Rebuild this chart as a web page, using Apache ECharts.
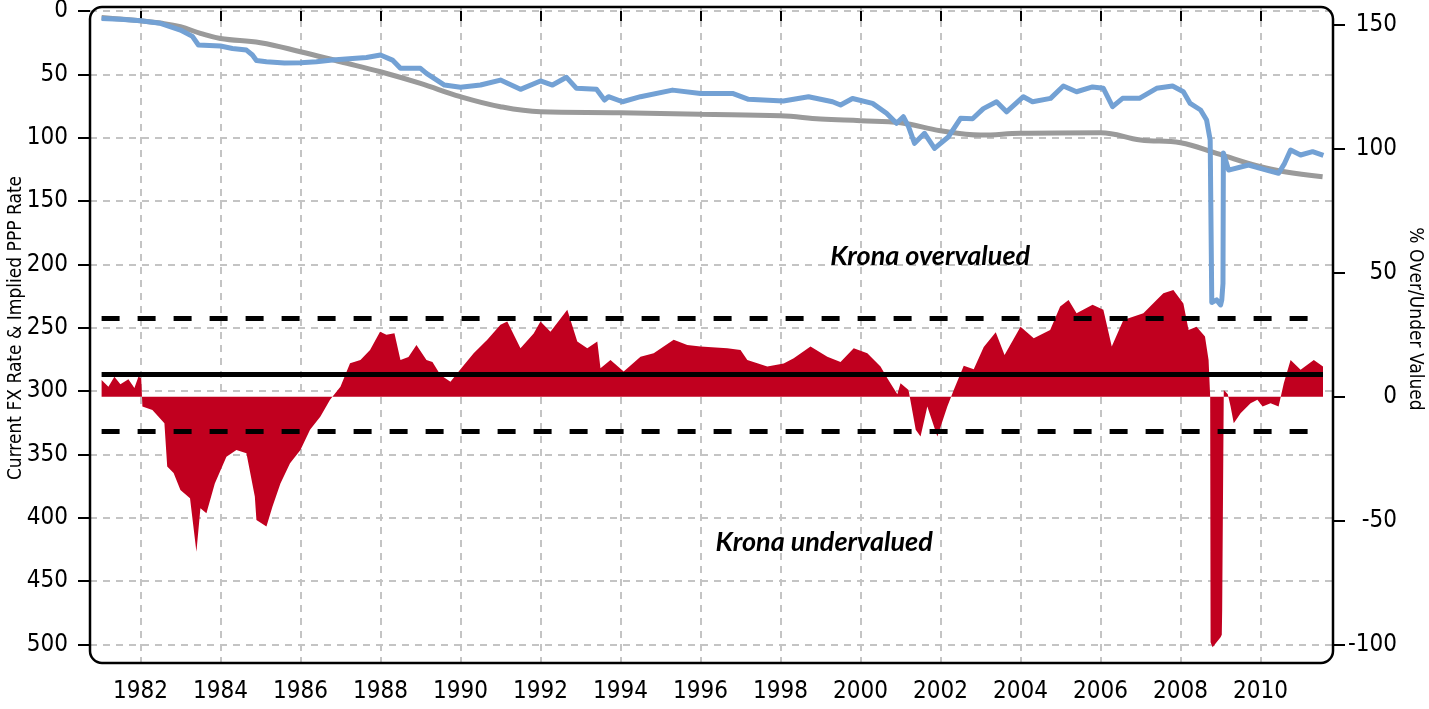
<!DOCTYPE html>
<html>
<head>
<meta charset="utf-8">
<title>Krona FX vs PPP</title>
<script src="https://cdn.jsdelivr.net/npm/echarts@6/dist/echarts.min.js"></script>
<style>
  html, body { margin: 0; padding: 0; background: #fff; }
  #chart { width: 1429px; height: 709px; }
</style>
</head>
<body>
<div id="chart"></div>
<script>
// current FX rate (left axis, inverted)
const fxDates = [1981.03, 1981.5, 1982.0, 1982.5, 1983.0, 1983.3, 1983.45, 1984.0, 1984.3, 1984.65, 1984.8, 1984.9,
  1985.15, 1985.6, 1986.0, 1986.4, 1986.8, 1987.3, 1987.65, 1988.0, 1988.3, 1988.5, 1989.0, 1989.15, 1989.6,
  1990.0, 1990.5, 1991.0, 1991.5, 1992.0, 1992.3, 1992.65, 1992.9, 1993.4, 1993.6, 1993.7, 1994.05, 1994.5,
  1995.3, 1996.0, 1996.8, 1997.2, 1998.07, 1998.7, 1999.3, 1999.5, 1999.8, 2000.3, 2000.65, 2000.9, 2001.07,
  2001.2, 2001.35, 2001.6, 2001.85, 2002.2, 2002.5, 2002.8, 2003.07, 2003.4, 2003.65, 2004.07, 2004.3, 2004.75,
  2005.07, 2005.4, 2005.8, 2006.07, 2006.3, 2006.55, 2006.97, 2007.4, 2007.8, 2008.07, 2008.24, 2008.5, 2008.65,
  2008.74, 2008.78, 2008.9, 2009.0, 2009.03, 2009.06, 2009.07, 2009.2, 2009.7, 2010.15, 2010.45, 2010.6, 2010.75,
  2011.0, 2011.3, 2011.57];
const fxValues = [5.8, 6.5, 7.6, 9.7, 15, 20, 26.8, 27.6, 29.5, 30.8, 34.7, 39,
  40, 41, 40.8, 40, 38.7, 37.5, 36.6, 34.7, 38.7, 45.2, 45.2, 49.2, 58.4,
  60.2, 58.4, 54.5, 61.8, 55.2, 58.4, 52.3, 61, 61.8, 70.2, 67.6, 71.6, 67.6,
  62.4, 65, 65, 69.7, 71, 67.6, 71.6, 74.2, 69, 72.9, 80.7, 88.6, 83.4,
  91.3, 104.4, 96.5, 108.4, 99.2, 84.7, 85, 77, 71.6, 79.5, 67.6, 71.6, 68.9,
  59.2, 63.7, 59.9, 61, 75.5, 68.9, 68.9, 61, 59.2, 63.7, 72.9, 78.1, 86,
  101.8, 230, 228, 232, 228, 215, 112, 125.5, 121.5, 125.5, 128, 120.2, 109.7,
  113.6, 111, 114];

// implied PPP rate (left axis, inverted)
const pppDates = [1981.03, 1982, 1982.5, 1983, 1983.5, 1984, 1985, 1986, 1987, 1988, 1989, 1990, 1991, 1992,
  1994, 1996, 1998, 1999, 2000, 2001, 2002, 2003, 2004, 2006, 2007, 2008, 2008.9, 2010, 2010.6, 2011.55];
const pppValues = [5, 7.6, 9.5, 12.4, 17.6, 21.6, 25, 32.1, 40, 47.9, 57.1, 67.6, 75.5, 79.5,
  80.2, 81.5, 82.6, 85.2, 86.6, 88.2, 94.5, 97.9, 96.5, 96, 101.8, 103.9, 112.3, 122.9, 126.8, 130.8];

// % over / under valued (right axis)
const gapDates = [1981.03, 1981.2, 1981.35, 1981.5, 1981.7, 1981.85, 1981.95, 1982.02, 1982.05, 1982.3, 1982.6,
  1982.67, 1982.83, 1983.0, 1983.24, 1983.4, 1983.5, 1983.65, 1983.86, 1984.15, 1984.4, 1984.65, 1984.86, 1984.9,
  1985.15, 1985.3, 1985.5, 1985.74, 1986.0, 1986.24, 1986.5, 1986.74, 1987.0, 1987.24, 1987.5, 1987.74, 1987.99,
  1988.15, 1988.35, 1988.5, 1988.7, 1988.9, 1989.15, 1989.3, 1989.5, 1989.75, 1990.0, 1990.33, 1990.67, 1991.0,
  1991.17, 1991.5, 1991.83, 1992.0, 1992.25, 1992.67, 1992.92, 1993.17, 1993.42, 1993.5, 1993.75, 1994.08, 1994.5,
  1994.83, 1995.33, 1995.67, 1996.0, 1996.67, 1997.0, 1997.17, 1997.67, 1998.08, 1998.33, 1998.75, 1999.17, 1999.5,
  1999.83, 2000.17, 2000.5, 2000.67, 2000.92, 2001.0, 2001.2, 2001.38, 2001.5, 2001.67, 2001.92, 2002.17, 2002.33,
  2002.58, 2002.83, 2003.08, 2003.38, 2003.6, 2004.0, 2004.33, 2004.74, 2004.99, 2005.2, 2005.4, 2005.8, 2006.07,
  2006.28, 2006.57, 2007.07, 2007.4, 2007.57, 2007.82, 2008.07, 2008.2, 2008.4, 2008.61, 2008.7, 2008.74, 2008.75,
  2008.8, 2008.9, 2009.0, 2009.03, 2009.04, 2009.07, 2009.08, 2009.18, 2009.25, 2009.33, 2009.5, 2009.75, 2009.92,
  2010.05, 2010.25, 2010.45, 2010.58, 2010.75, 2011.0, 2011.33, 2011.56];
const gapValues = [6.7, 4, 8, 5, 7, 3.5, 8, 7.5, -4, -5.4, -10.7,
  -28.2, -30.8, -37.6, -41, -62.5, -45, -47, -35, -24.2, -21.5, -22.8, -40.3, -49.7,
  -52.4, -44.4, -35, -26.9, -21.5, -13.4, -8, -1.3, 4, 13.5, 14.8, 18.8, 26.2,
  25, 25.6, 14.8, 16, 20.8, 14.8, 14, 8.7, 6, 11, 17.5, 22.9, 29,
  30.3, 19.5, 25.5, 30.3, 26.2, 35, 22.2, 19.5, 22.2, 11.4, 14.8, 10.1, 16.1,
  17.5, 22.9, 20.8, 20.2, 19.5, 18.8, 14.8, 12.1, 13.4, 15.5, 20.2, 16.1, 14,
  19.5, 17.5, 12.1, 7.4, 1, 5.4, 2.7, -13.4, -16.1, -4, -16.1, -4, 2.7,
  12.5, 11, 20, 26, 16.8, 28.2, 23.5, 26.9, 36.3, 39, 33.6, 37, 35,
  20.2, 30.9, 33.6, 39, 41.7, 43, 37.6, 26.9, 28.2, 24.2, 14.8, 0, -99,
  -101, -99, -97, -96, -86, -86, 2.7, 1, -4, -10.7, -6.7, -2.7, -1.3,
  -4, -2.7, -4, 5.4, 14.8, 10.8, 14.8, 12.1];

// mean and +/- one standard deviation of the gap
const gapMean = 8.9;
const gapUpper = 31.7;
const gapLower = -13.9;

const yearTicks = [1982, 1984, 1986, 1988, 1990, 1992, 1994, 1996, 1998, 2000, 2002, 2004, 2006, 2008, 2010];
const leftTicks = [0, 50, 100, 150, 200, 250, 300, 350, 400, 450, 500];
const rightTicks = [-100, -50, 0, 50, 100, 150];

const font = "'Liberation Sans Narrow', 'DejaVu Sans Condensed', sans-serif";
const G = { left: 90, top: 7, right: 96, bottom: 46 };
const W = 1429, H = 709;

const zip = (xs, ys) => xs.map((x, i) => [x, ys[i]]);
const dataStart = gapDates[0];
const dataEnd = gapDates[gapDates.length - 1];

const bandLine = (v, type) => [
  { coord: [dataStart, v], lineStyle: { color: '#000', width: 5, type: type } },
  { coord: [dataEnd, v] }
];

const chart = echarts.init(document.getElementById('chart'));

const option = {
  animation: false,
  backgroundColor: '#fff',
  textStyle: { fontFamily: font },
  grid: {
    left: G.left, top: G.top, right: G.right, bottom: G.bottom,
    containLabel: false,
    outerBoundsMode: 'none'
  },
  graphic: [{
    type: 'rect',
    shape: { x: G.left, y: G.top, width: W - G.left - G.right, height: H - G.top - G.bottom, r: 12 },
    style: { fill: 'none', stroke: '#000', lineWidth: 2.5 },
    z: 100,
    silent: true
  }],
  xAxis: {
    type: 'value',
    min: 1980.74,
    max: 2011.81,
    axisLine: { show: false },
    axisTick: { show: true, customValues: yearTicks, length: 10, lineStyle: { color: '#000', width: 2 } },
    axisLabel: {
      customValues: yearTicks, color: '#000', fontSize: 24, margin: 17, fontFamily: font,
      formatter: v => String(v)
    },
    splitLine: { show: true, lineStyle: { color: '#c4c4c4', width: 2, type: [7, 6] } }
  },
  yAxis: [{
    type: 'value',
    inverse: true,
    alignTicks: false,
    min: -3.2,
    max: 514.6,
    name: 'Current FX Rate & Implied PPP Rate',
    nameLocation: 'middle',
    nameRotate: 90,
    nameGap: 64,
    nameMoveOverlap: false,
    nameTextStyle: { color: '#000', fontSize: 19, fontFamily: font, padding: [0, 0, 0, 14] },
    axisLine: { show: false },
    axisTick: { show: true, customValues: leftTicks, length: 12, lineStyle: { color: '#000', width: 2 } },
    axisLabel: { customValues: leftTicks, color: '#000', fontSize: 24, margin: 22, fontFamily: font },
    splitLine: { show: true, lineStyle: { color: '#c4c4c4', width: 2, type: [7, 6] } }
  }, {
    type: 'value',
    position: 'right',
    alignTicks: false,
    min: -107.4,
    max: 157.1,
    name: '% Over/Under Valued',
    nameLocation: 'middle',
    nameRotate: -90,
    nameGap: 72,
    nameMoveOverlap: false,
    nameTextStyle: { color: '#000', fontSize: 19, fontFamily: font, padding: [0, 32, 0, 0] },
    axisLine: { show: false },
    axisTick: { show: true, customValues: rightTicks, length: 12, lineStyle: { color: '#000', width: 2 } },
    axisLabel: { customValues: rightTicks, color: '#000', fontSize: 24, margin: 64, align: 'right', fontFamily: font },
    splitLine: { show: false }
  }],
  series: [{
    name: 'Over/Under Valued',
    type: 'line',
    yAxisIndex: 1,
    data: zip(gapDates, gapValues),
    showSymbol: false,
    lineStyle: { width: 0 },
    areaStyle: { color: '#c1001f', opacity: 1, origin: 0 },
    markLine: {
      silent: true,
      symbol: 'none',
      label: { show: false },
      data: [
        bandLine(gapUpper, [18, 18]),
        bandLine(gapLower, [18, 18]),
        bandLine(gapMean, 'solid')
      ]
    },
    markPoint: {
      silent: true,
      symbol: 'rect',
      symbolSize: 1,
      itemStyle: { color: 'rgba(0,0,0,0)' },
      label: {
        show: true,
        position: 'inside',
        formatter: '{b}',
        color: '#000',
        fontSize: 27,
        fontWeight: 'bold',
        fontStyle: 'italic',
        fontFamily: 'Lato, "Open Sans", sans-serif'
      },
      data: [
        { name: 'Krona overvalued', coord: [2001.74, 56.7] },
        { name: 'Krona undervalued', coord: [1999.09, -58.6] }
      ]
    }
  }, {
    name: 'PPP Rate',
    type: 'line',
    yAxisIndex: 0,
    data: zip(pppDates, pppValues),
    showSymbol: false,
    smooth: 0.4,
    lineStyle: { color: '#9a9a9a', width: 5 }
  }, {
    name: 'FX Rate',
    type: 'line',
    yAxisIndex: 0,
    data: zip(fxDates, fxValues),
    showSymbol: false,
    lineStyle: { color: '#73a1d4', width: 5, join: 'round' }
  }]
};

chart.setOption(option);
</script>
</body>
</html>
